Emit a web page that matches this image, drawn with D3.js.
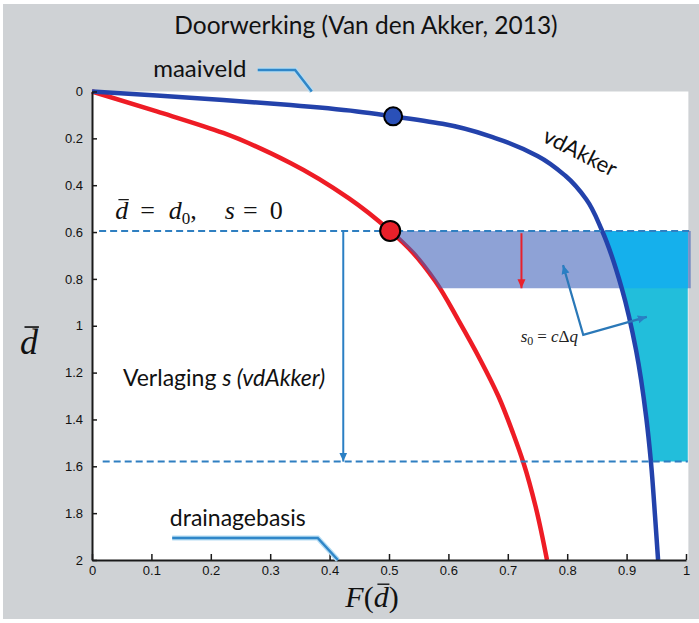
<!DOCTYPE html>
<html lang="nl">
<head>
<meta charset="UTF-8">
<script src="https://d3js.org/d3.v7.min.js"></script>
<style>
  body { margin: 0; background: #fff; }
  svg text { font-family: Lato, "Open Sans", sans-serif; }
</style>
</head>
<body>
<div id="chart"></div>
<script>
// curves: F(d) against depth d
var redF  = [0, 0.109, 0.221, 0.334, 0.432, 0.502, 0.541, 0.578, 0.617, 0.654, 0.684, 0.709, 0.727, 0.747, 0.766];
var redD  = [0, 0.085, 0.177, 0.305, 0.455, 0.595, 0.69, 0.81, 0.977, 1.147, 1.30, 1.46, 1.59, 1.774, 2.0];
var blueF = [0, 0.109, 0.221, 0.334, 0.446, 0.507, 0.59, 0.68, 0.75, 0.797, 0.832, 0.858, 0.892, 0.916, 0.933, 0.941, 0.948, 0.953];
var blueD = [0, 0.017, 0.036, 0.058, 0.085, 0.106, 0.138, 0.2, 0.275, 0.36, 0.46, 0.59, 0.841, 1.105, 1.39, 1.582, 1.817, 2.0];

var xTicks = [0, 0.1, 0.2, 0.3, 0.4, 0.5, 0.6, 0.7, 0.8, 0.9, 1];
var yTicks = [0, 0.2, 0.4, 0.6, 0.8, 1, 1.2, 1.4, 1.6, 1.8, 2];

// depth levels: start (d0), after s0, after full lowering s
var levels = [0.595, 0.84, 1.58];
var blueDotF = 0.507, blueDotD = 0.106;
var sArrowF = 0.423, s0ArrowF = 0.723;

// set the dimensions and margins of the graph
var margin = {top: 91.5, left: 92},
    W = 699, H = 623,
    width = 594,
    height = 468.5;

var svg = d3.select("#chart").append("svg")
    .attr("width", W).attr("height", H);

svg.append("rect").attr("width", W).attr("height", H).attr("fill", "#fff");
svg.append("rect").attr("x", 3).attr("y", 4).attr("width", W - 3).attr("height", 615).attr("fill", "#cfd2d5");

svg.append("text")
    .attr("x", 366).attr("y", 34)
    .attr("text-anchor", "middle")
    .style("font-size", "24.5px").style("fill", "#111")
    .text("Doorwerking (Van den Akker, 2013)");

var defs = svg.append("defs");
function marker(id, color) {
  defs.append("marker")
      .attr("id", id)
      .attr("markerUnits", "userSpaceOnUse")
      .attr("markerWidth", 10).attr("markerHeight", 10)
      .attr("refX", 9).attr("refY", 5)
      .attr("orient", "auto-start-reverse")
    .append("path").attr("d", "M0,1 L9,5 L0,9 z").attr("fill", color);
}
marker("arrBlue", "#2a7fc4");
marker("arrRed", "#e8202a");

var g = svg.append("g")
    .attr("transform", "translate(" + margin.left + "," + margin.top + ")");

var x = d3.scaleLinear().domain([0, 1]).range([0, width]);
var y = d3.scaleLinear().domain([0, 2]).range([0, height]);

// piecewise lookups along the curves
var redAt = d3.scaleLinear().domain(redD).range(redF);
var blueAt = d3.scaleLinear().domain(blueD).range(blueF);

g.append("rect").attr("x", 0).attr("y", 0)
    .attr("width", x(1.004)).attr("height", height).attr("fill", "#fff");

var redPts = redD.map(function(d, i) { return [redF[i], d]; });
var bluePts = blueD.map(function(d, i) { return [blueF[i], d]; });

var line = d3.line()
    .x(function(d) { return x(d[0]); })
    .y(function(d) { return y(d[1]); })
    .curve(d3.curveMonotoneY);
var poly = d3.line()
    .x(function(d) { return x(d[0]); })
    .y(function(d) { return y(d[1]); });

// red curve first, the band goes over it
g.append("path").datum(redPts)
    .attr("d", line).attr("fill", "none")
    .attr("stroke", "#ee1c25").attr("stroke-width", 4.5);

// area between two levels, right of a curve
function band(at, pts, top, bottom, right) {
  var inner = pts.filter(function(p) { return p[1] > top && p[1] < bottom; }).reverse();
  return [[at(top), top], [right, top], [right, bottom], [at(bottom), bottom]]
      .concat(inner)
      .concat([[at(top), top]]);
}

g.append("path").datum(band(redAt, redPts, levels[0], levels[1], 1.008))
    .attr("d", poly).attr("fill", "rgba(60,95,185,0.58)");

// cyan area right of the vdAkker curve
g.append("path").datum(band(blueAt, bluePts, levels[0], levels[2], 1.003))
    .attr("d", poly).attr("fill", "#22bedb");
g.append("path").datum(band(blueAt, bluePts, levels[0], levels[1], 1.003))
    .attr("d", poly).attr("fill", "#15b0ec");

g.append("path").datum(bluePts)
    .attr("d", line).attr("fill", "none")
    .attr("stroke", "#2342ab").attr("stroke-width", 4.5);

// dashed level lines
g.append("line")
    .attr("x1", x(0.012)).attr("x2", x(1.006))
    .attr("y1", y(levels[0])).attr("y2", y(levels[0]))
    .attr("stroke", "#2f7fc1").attr("stroke-width", 2).attr("stroke-dasharray", "7,4");
g.append("line")
    .attr("x1", x(0.018)).attr("x2", x(1.003))
    .attr("y1", y(levels[2])).attr("y2", y(levels[2]))
    .attr("stroke", "#2f7fc1").attr("stroke-width", 2).attr("stroke-dasharray", "7,4");

// arrows
g.append("line")
    .attr("x1", x(sArrowF)).attr("x2", x(sArrowF))
    .attr("y1", y(levels[0])).attr("y2", y(levels[2]))
    .attr("stroke", "#2a7fc4").attr("stroke-width", 2)
    .attr("marker-end", "url(#arrBlue)");
g.append("line")
    .attr("x1", x(s0ArrowF)).attr("x2", x(s0ArrowF))
    .attr("y1", y(levels[0] + 0.01)).attr("y2", y(levels[1]))
    .attr("stroke", "#e8202a").attr("stroke-width", 2)
    .attr("marker-end", "url(#arrRed)");
g.append("path").datum([[0.793, 0.741], [0.827, 1.039], [0.934, 0.962]])
    .attr("d", poly).attr("fill", "none")
    .attr("stroke", "#2a78b8").attr("stroke-width", 2.2)
    .attr("marker-start", "url(#arrBlue)").attr("marker-end", "url(#arrBlue)");

// axes
var xAxis = g.append("g")
    .attr("transform", "translate(0," + height + ")")
    .call(d3.axisBottom(x).tickValues(xTicks).tickSizeInner(-6).tickSizeOuter(0)
      .tickPadding(6).tickFormat(d3.format("~g")));
var yAxis = g.append("g")
    .call(d3.axisLeft(y).tickValues(yTicks).tickSizeInner(-5).tickSizeOuter(0)
      .tickPadding(9).tickFormat(d3.format("~g")));
[xAxis, yAxis].forEach(function(a) {
  a.select(".domain").attr("stroke", "#1a1a1a").attr("stroke-width", 2);
  a.selectAll(".tick line").attr("stroke", "#1a1a1a").attr("stroke-width", 1.5);
  a.selectAll(".tick text")
      .style("font-family", "'Liberation Sans', Arial, sans-serif")
      .style("font-size", "13px").style("fill", "#111");
});

// dots
g.append("circle").attr("cx", x(blueDotF)).attr("cy", y(blueDotD)).attr("r", 9)
    .attr("fill", "#2a50b8").attr("stroke", "#000").attr("stroke-width", 2);
g.append("circle").attr("cx", x(redAt(levels[0]))).attr("cy", y(levels[0])).attr("r", 10)
    .attr("fill", "#e8202a").attr("stroke", "#000").attr("stroke-width", 2);

// overline above one glyph of a text
function overline(t, i, size) {
  var e = t.node().getExtentOfChar(i);
  var top = e.y + size * 0.14;
  svg.append("line")
      .attr("x1", e.x + e.width * 0.25).attr("x2", e.x + e.width * 1.05)
      .attr("y1", top).attr("y2", top)
      .attr("stroke", "#111").attr("stroke-width", size / 22);
}
function abs(px, py) { return [margin.left + x(px), margin.top + y(py)]; }

var serif = "'Liberation Serif', 'Times New Roman', serif";

// y label
var yl = svg.append("text").attr("x", 20).attr("y", 354)
    .style("font-family", serif).style("font-style", "italic")
    .style("font-size", "36px").style("fill", "#111").text("d");
overline(yl, 0, 36);

// x label F(d)
var xl = svg.append("text").attr("x", 372).attr("y", 607).attr("text-anchor", "middle")
    .style("font-family", serif).style("font-size", "30px").style("fill", "#111");
xl.append("tspan").style("font-style", "italic").text("F");
xl.append("tspan").text("(");
xl.append("tspan").style("font-style", "italic").text("d");
xl.append("tspan").text(")");
overline(xl, 2, 30);

// d = d0, s = 0
var p = abs(0.039, 0.54);
var eq = svg.append("text").attr("x", p[0]).attr("y", p[1] + 1)
    .style("font-family", serif).style("font-size", "26px").style("fill", "#111");
eq.append("tspan").style("font-style", "italic").text("d");
eq.append("tspan").attr("dx", 12).text("=");
eq.append("tspan").attr("dx", 14).style("font-style", "italic").text("d");
eq.append("tspan").attr("dy", 5).style("font-size", "17px").text("0");
eq.append("tspan").attr("dy", -5).text(",");
eq.append("tspan").attr("dx", 28).style("font-style", "italic").text("s");
eq.append("tspan").attr("dx", 8).text("=");
eq.append("tspan").attr("dx", 12).text("0");
overline(eq, 0, 26);

// s0 = c dq
p = abs(0.818, 1.05);
var s0 = svg.append("text").attr("x", p[0]).attr("y", p[1] + 5).attr("text-anchor", "end")
    .style("font-family", serif).style("font-size", "17px").style("fill", "#222");
s0.append("tspan").style("font-style", "italic").text("s");
s0.append("tspan").attr("dy", 3).style("font-size", "12px").text("0");
s0.append("tspan").attr("dy", -3).attr("dx", 4).text("=");
s0.append("tspan").attr("dx", 4).style("font-style", "italic").text("c");
s0.append("tspan").text("\u0394");
s0.append("tspan").style("font-style", "italic").text("q");

// Verlaging s (vdAkker)
p = abs(0.052, 1.224);
var vl = svg.append("text").attr("x", p[0]).attr("y", p[1] + 8)
    .style("font-size", "23px").style("fill", "#111");
vl.append("tspan").text("Verlaging ");
vl.append("tspan").style("font-style", "italic").text("s (vdAkker)");

// vdAkker label along the curve
p = abs(0.822, 0.258);
svg.append("text")
    .attr("transform", "translate(" + p[0] + "," + p[1] + ") rotate(27)")
    .attr("text-anchor", "middle").attr("dy", 8)
    .style("font-size", "22px").style("fill", "#111")
    .text("vdAkker");

// leader labels
function leader(pts) {
  var ln = d3.line().x(function(d) { return abs(d[0], d[1])[0]; })
                    .y(function(d) { return abs(d[0], d[1])[1]; });
  svg.append("path").attr("d", ln(pts)).attr("fill", "none")
      .attr("stroke", "#b5dcf3").attr("stroke-width", 5);
  svg.append("path").attr("d", ln(pts)).attr("fill", "none")
      .attr("stroke", "#2f86c8").attr("stroke-width", 2.5);
}
p = abs(0.103, -0.062);
svg.append("text").attr("x", p[0]).attr("y", p[1])
    .style("font-size", "24px").style("fill", "#111").text("maaiveld");
leader([[0.279, -0.092], [0.342, -0.092], [0.370, 0]]);

p = abs(0.131, 1.855);
svg.append("text").attr("x", p[0]).attr("y", p[1])
    .style("font-size", "23px").style("fill", "#111").text("drainagebasis");
leader([[0.135, 1.906], [0.380, 1.906], [0.414, 2]]);
</script>
</body>
</html>
